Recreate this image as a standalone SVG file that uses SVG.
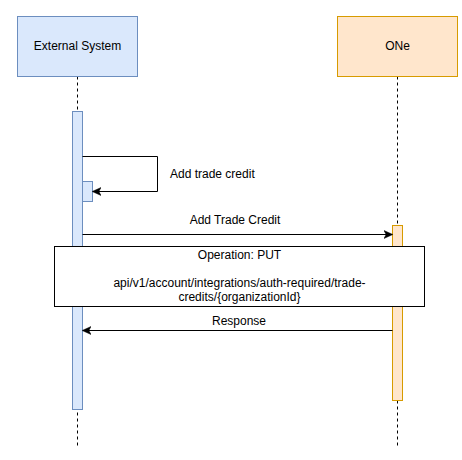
<svg xmlns="http://www.w3.org/2000/svg" width="462" height="460" viewBox="0 0 462 460">
<style>
text{font-family:"Liberation Sans",Arial,sans-serif;font-size:12px;fill:#000}
.blue{fill:#dae8fc;stroke:#6c8ebf;stroke-width:1}
.orange{fill:#ffe6cc;stroke:#d79b00;stroke-width:1}
.life{stroke:#000;stroke-width:1;stroke-dasharray:3 3;fill:none}
.msg{stroke:#000;stroke-width:1;fill:none;marker-end:url(#arr)}
</style>
<defs>
<marker id="arr" viewBox="0 0 10 10" refX="9" refY="5" markerWidth="9" markerHeight="9" markerUnits="userSpaceOnUse" orient="auto">
<path d="M0,0.5 L10,5 L0,9.5 L2.5,5 Z" fill="#000" stroke="#000" stroke-width="0.5"/>
</marker>
</defs>
<rect width="462" height="460" fill="#fff"/>
<g id="lifelines">
<line class="life" x1="77.5" y1="76.5" x2="77.5" y2="447"/>
<line class="life" x1="397.5" y1="76.5" x2="397.5" y2="447"/>
</g>
<g id="external-system">
<rect class="blue" x="17.5" y="16.5" width="120" height="60"/>
<text x="77.5" y="50" text-anchor="middle">External System</text>
</g>
<g id="one">
<rect class="orange" x="337.5" y="16.5" width="120" height="60"/>
<text x="397.5" y="50" text-anchor="middle">ONe</text>
</g>
<g id="external-activation">
<rect class="blue" x="72.5" y="111.5" width="10" height="298"/>
</g>
<g id="self-activation">
<rect class="blue" x="82.5" y="181.5" width="10" height="20"/>
</g>
<g id="one-activation">
<rect class="orange" x="392.5" y="225.5" width="10" height="175"/>
</g>
<g id="connectors">
<path class="msg" d="M82.5,156.5 H157.5 V191.5 H93"/>
<text x="170" y="178">Add trade credit</text>
<path class="msg" d="M82.5,234.5 H392"/>
<text x="235" y="224" text-anchor="middle">Add Trade Credit</text>
<path class="msg" d="M392.5,330.5 H83"/>
<text x="239" y="325" text-anchor="middle">Response</text>
</g>
<g id="note">
<rect x="54.5" y="246.5" width="370" height="60" fill="#fff" stroke="#000" stroke-width="1"/>
<text x="239.5" y="259" text-anchor="middle">Operation: PUT</text>
<text x="239.5" y="287" text-anchor="middle">api/v1/account/integrations/auth-required/trade-</text>
<text x="239.5" y="301" text-anchor="middle">credits/{organizationId}</text>
</g>
</svg>
